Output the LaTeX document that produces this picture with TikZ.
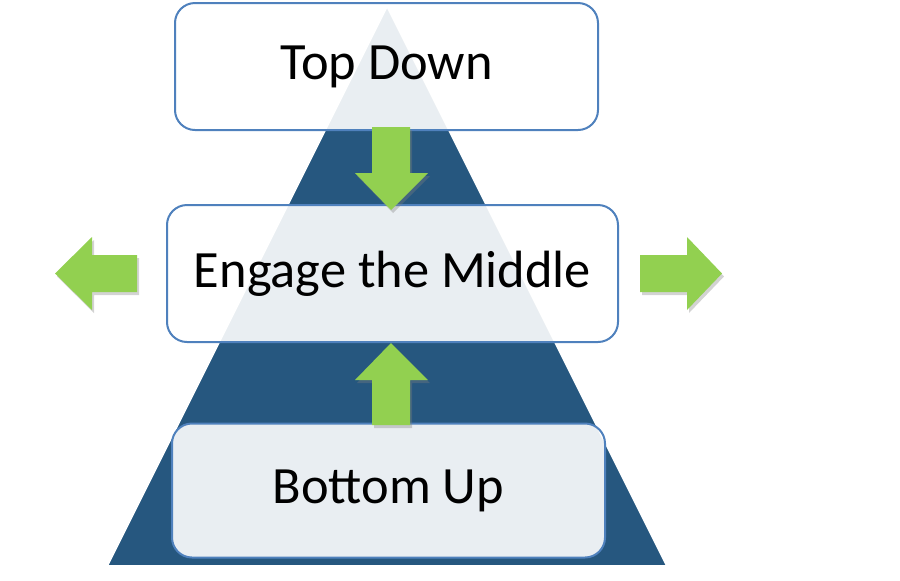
\documentclass[tikz,border=0pt]{standalone}
\usepackage{fontspec}
\setmainfont{Carlito}
\usetikzlibrary{positioning,shadows}
\definecolor{pyrblue}{HTML}{26577F}
\definecolor{boxline}{HTML}{4F81BD}
\definecolor{arrgreen}{HTML}{92D050}

\begin{document}
\begin{tikzpicture}[x=0.5pt,y=-0.5pt,{level/.style={rectangle,rounded corners=10pt,draw=boxline,line width=1pt,fill=white,fill opacity=0.9,text opacity=1,inner sep=0pt,font=\fontsize{26.2}{30}\selectfont}},{garrow/.style={fill=arrgreen,drop shadow={shadow xshift=1pt,shadow yshift=-1.5pt,opacity=0.35}}}]
	\useasboundingbox (0,0) rectangle (900,580);
	%%corners of pyramid
	\coordinate (A) at (107,566);
	\coordinate (B) at (667,566);
	\coordinate (C) at (387,6);
	%%pyramid
	\filldraw [fill=pyrblue,draw=white,line width=1pt] (A) -- (B) -- (C) -- cycle;
	%%levels
	\node [level,minimum width=211.5pt,minimum height=63.5pt] (top) at (386.5,66.5) {Top Down};
	\node [level,minimum width=225.5pt,minimum height=68.5pt] (middle) at (392.5,273.5) {Engage the Middle};
	\node [level,minimum width=216.5pt,minimum height=67pt] (bottom) at (388.5,490.5) {Bottom Up};
	%%arrows
	\fill [garrow] (372,127) -- (410,127) -- (410,173) -- (428,173) -- (391,210) -- (355,173) -- (372,173) -- cycle;
	\fill [garrow] (372,425) -- (410,425) -- (410,380) -- (428,380) -- (391,343) -- (355,380) -- (372,380) -- cycle;
	\fill [garrow] (137,255) -- (92,255) -- (92,237) -- (55,273.5) -- (92,310) -- (92,292) -- (137,292) -- cycle;
	\fill [garrow] (640,255) -- (687,255) -- (687,237) -- (722,273.5) -- (687,310) -- (687,292) -- (640,292) -- cycle;
\end{tikzpicture}
\end{document}
